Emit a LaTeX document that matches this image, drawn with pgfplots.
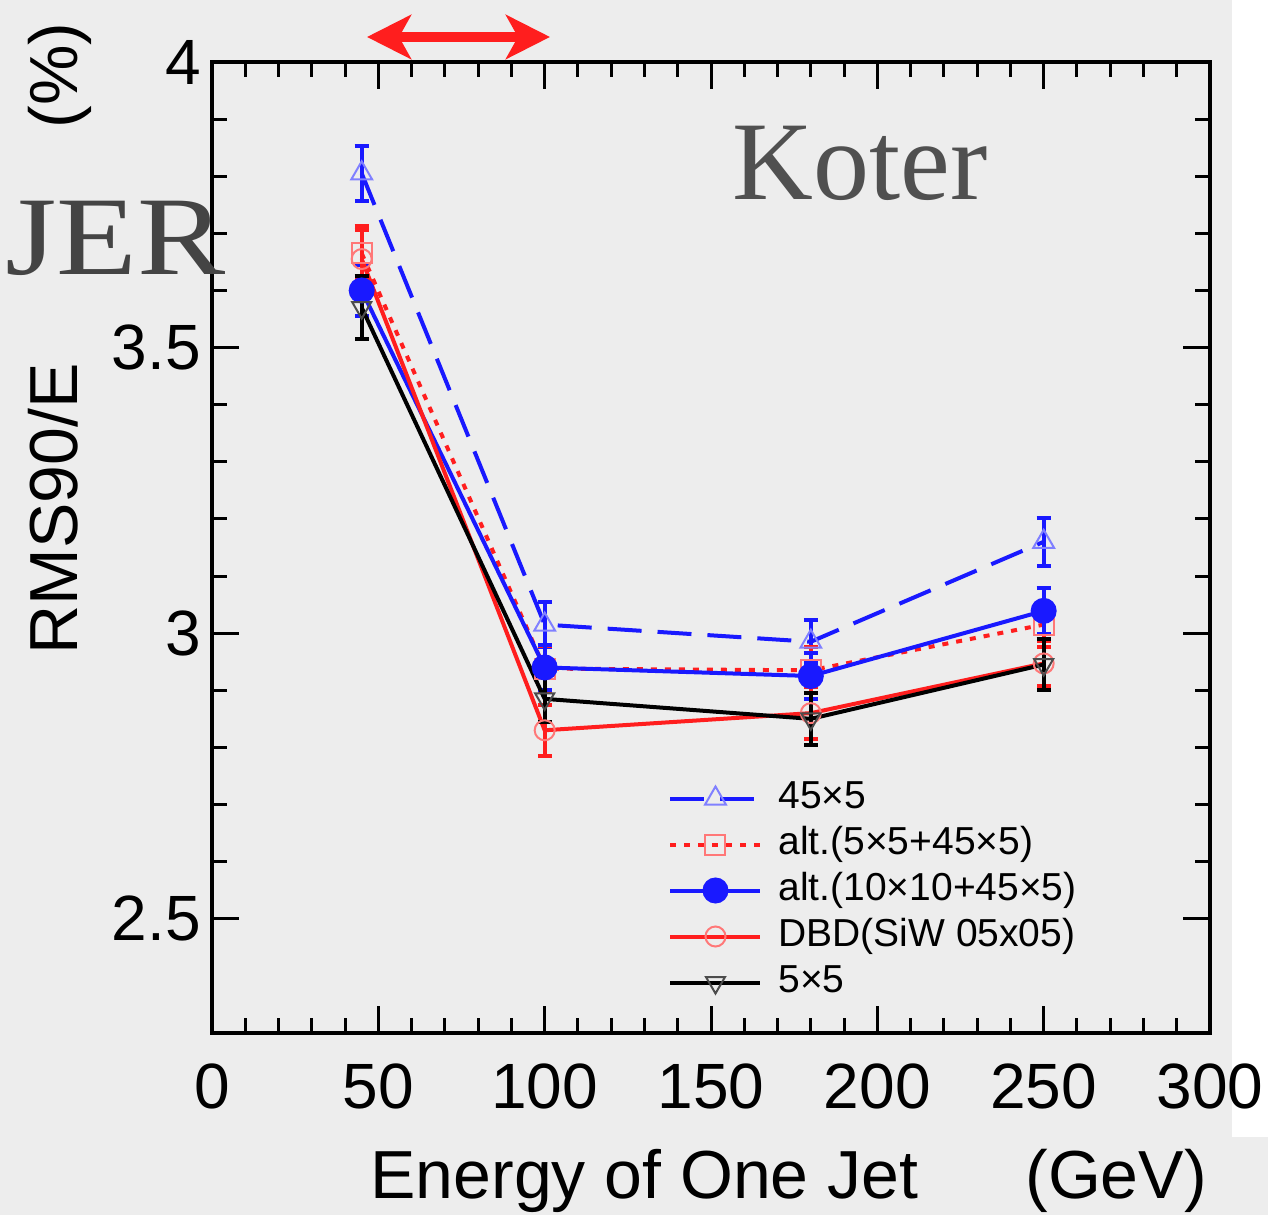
\documentclass[border=0pt]{standalone}
\usepackage{pgfplots}
\pgfplotsset{compat=1.18}
\usepackage{fontspec}
\setmainfont{Liberation Sans}
\newfontfamily\seriffont{Liberation Serif}
\usetikzlibrary{arrows.meta}
\definecolor{bgc}{RGB}{237,237,237}
\definecolor{myblue}{RGB}{25,25,255}
\definecolor{myred}{RGB}{255,30,30}
\definecolor{txtgray}{RGB}{80,80,80}
\begin{document}
\begin{tikzpicture}
\fill[bgc] (0,0) rectangle (634pt,607.5pt);
\path[use as bounding box] (0,0) rectangle (634pt,607.5pt);
\fill[white] (616pt,39pt) rectangle (634pt,607.5pt);
\begin{axis}[
  at={(106pt,91pt)}, anchor=south west,
  scale only axis, width=499pt, height=485.5pt,
  xmin=0, xmax=300, ymin=2.3, ymax=4,
  xtick={0,50,...,300}, ytick={2.5,3,3.5,4},
  minor x tick num=4, minor y tick num=4,
  tick align=inside,
  major tick length=13.5pt, minor tick length=7.5pt,
  every tick/.style={black, line width=1.5pt},
  axis line style={line width=2pt},
  /pgf/number format/assume math mode=true,
  ticklabel style={font=\fontsize{32}{36}\selectfont},
  xticklabel style={yshift=-12pt},
  yticklabel style={xshift=-2pt},
  clip=false,
  legend cell align=left,
  legend style={at={(0.457,0.262)}, anchor=north west, draw=none, fill=none,
    inner sep=0pt, row sep=3.5pt,
    font=\fontsize{19.5}{21}\selectfont,
    nodes={text height=13.5pt, text depth=4pt, inner sep=1pt},
    /tikz/every odd column/.append style={column sep=7pt}},
  legend image code/.code={\draw[mark repeat=2,mark phase=2] plot coordinates {(0pt,0pt) (22.5pt,0pt) (45pt,0pt)};},
  error bars/y dir=both, error bars/y explicit,
  error bars/error bar style={solid, line width=2pt},
  error bars/error mark options={solid, rotate=90, mark size=3.5pt, line width=2pt},
]
\addplot[myblue, line width=2pt, dash pattern=on 17pt off 8pt,
  mark=triangle, mark size=6pt, mark options={solid, line width=1pt, draw=myblue!55, fill=none}]
  coordinates {(45,3.805) +- (0,0.048) (100,3.015) +- (0,0.04) (180,2.985) +- (0,0.038) (250,3.16) +- (0,0.042)};
\addlegendentry{45×5}
\addplot[myred, line width=2pt, dash pattern=on 3pt off 4pt,
  mark=square, mark size=5pt, mark options={solid, line width=1pt, draw=myred!60, fill=none}]
  coordinates {(45,3.665) +- (0,0.047) (100,2.938) +- (0,0.04) (180,2.935) +- (0,0.04) (250,3.015) +- (0,0.04)};
\addlegendentry{alt.(5×5+45×5)}
\addplot[myblue, line width=2pt,
  mark=*, mark size=5.5pt, mark options={solid, fill=myblue}]
  coordinates {(45,3.6) +- (0,0.045) (100,2.94) +- (0,0.04) (180,2.925) +- (0,0.04) (250,3.039) +- (0,0.04)};
\addlegendentry{alt.(10×10+45×5)}
\addplot[myred, line width=2pt,
  mark=o, mark size=5pt, mark options={solid, line width=1pt, draw=myred!60}]
  coordinates {(45,3.655) +- (0,0.05) (100,2.83) +- (0,0.045) (180,2.86) +- (0,0.045) (250,2.947) +- (0,0.04)};
\addlegendentry{DBD(SiW 05x05)}
\addplot[black, line width=2pt,
  mark=triangle, mark size=5.5pt, mark options={solid, rotate=180, line width=1pt, draw=black!70, fill=none}]
  coordinates {(45,3.57) +- (0,0.055) (100,2.885) +- (0,0.04) (180,2.85) +- (0,0.045) (250,2.945) +- (0,0.045)};
\addlegendentry{5×5}
\end{axis}
\draw[myred, line width=5pt, {Stealth[length=22pt,width=22pt,inset=6pt]}-{Stealth[length=22pt,width=22pt,inset=6pt]}] (183.5pt,589pt) -- (275pt,589pt);
\node[anchor=base, font=\seriffont\fontsize{56}{60}\selectfont, text=txtgray, inner sep=0] at (430pt,507.5pt) {Koter};
\node[anchor=base west, font=\seriffont\fontsize{56}{60}\selectfont, text=txtgray!85!black, inner sep=0, xscale=1.18] at (2.5pt,470pt) {JER};
\node[anchor=base west, rotate=90, font=\fontsize{34}{38}\selectfont, inner sep=0] at (39pt,280pt) {RMS90/E};
\node[anchor=base west, rotate=90, font=\fontsize{34}{38}\selectfont, inner sep=0] at (39pt,543pt) {(\%)};
\node[anchor=base west, font=\fontsize{34}{38}\selectfont, inner sep=0] at (185pt,8.5pt) {Energy of One Jet};
\node[anchor=base west, font=\fontsize{34}{38}\selectfont, inner sep=0] at (512.5pt,8.5pt) {(GeV)};
\end{tikzpicture}
\end{document}
